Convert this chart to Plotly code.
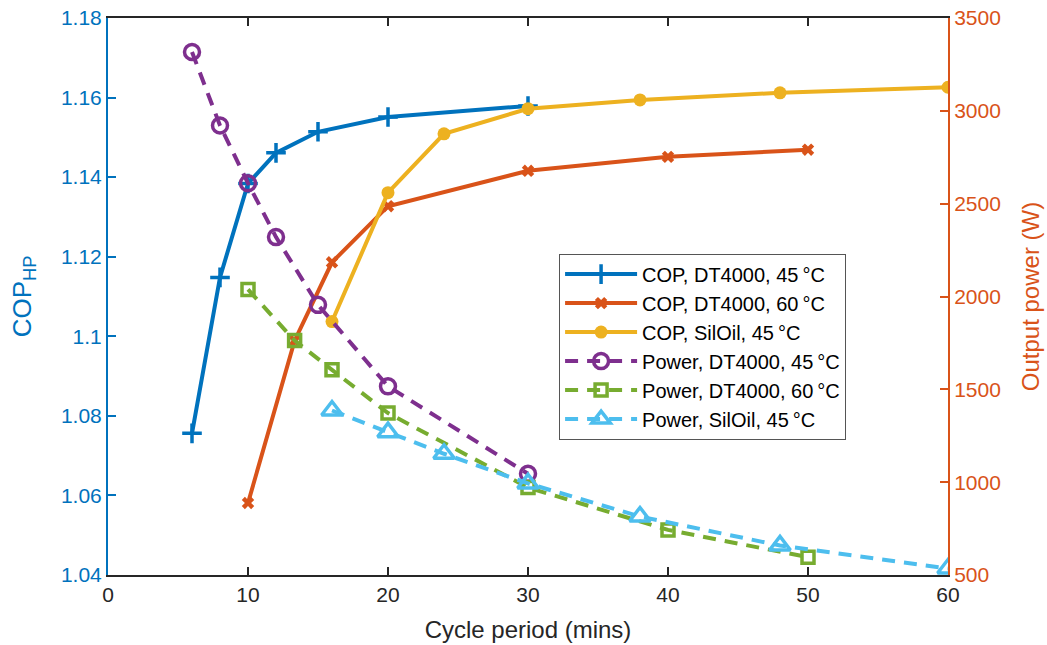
import plotly.graph_objects as go

# Cycle periods (mins)
x_dt45 = [6, 8, 10, 12, 15, 20, 30]
x_dt60 = [10, 13.33, 16, 20, 30, 40, 50]
x_sil45 = [16, 20, 24, 30, 38, 48, 60]

# COP values (left axis)
cop_dt45 = [1.0756, 1.1148, 1.1384, 1.1461, 1.1514, 1.1551, 1.1579]
cop_dt60 = [1.0581, 1.0989, 1.1186, 1.1327, 1.1416, 1.1451, 1.1469]
cop_sil45 = [1.1037, 1.1361, 1.1509, 1.1572, 1.1594, 1.1612, 1.1626]

# Output power values (W, right axis)
pow_dt45 = [3317, 2921, 2610, 2320, 1955, 1516, 1045]
pow_dt60 = [2038, 1763, 1605, 1372, 971, 743, 596]
pow_sil45 = [1386, 1269, 1153, 993, 815, 659, 535]

BLUE = "#0072BD"
ORANGE = "#D95319"
YELLOW = "#EDB120"
PURPLE = "#7E2F8E"
GREEN = "#77AC30"
CYAN = "#4DBEEE"
DASH = "13px,9px"

fig = go.Figure()

fig.add_trace(go.Scatter(x=x_dt45, y=cop_dt45, mode="lines+markers",
    name="COP, DT4000, 45\u2009\u00b0C",
    line=dict(color=BLUE, width=4),
    marker=dict(symbol="cross-thin", size=14, line=dict(color=BLUE, width=3.5))))
fig.add_trace(go.Scatter(x=x_dt60, y=cop_dt60, mode="lines+markers",
    name="COP, DT4000, 60\u2009\u00b0C",
    line=dict(color=ORANGE, width=4),
    marker=dict(symbol="x", size=11, color=ORANGE, line=dict(width=0))))
fig.add_trace(go.Scatter(x=x_sil45, y=cop_sil45, mode="lines+markers",
    name="COP, SilOil, 45\u2009\u00b0C",
    line=dict(color=YELLOW, width=4),
    marker=dict(symbol="circle", size=13, color=YELLOW)))

fig.add_trace(go.Scatter(x=x_dt45, y=pow_dt45, mode="lines+markers", yaxis="y2",
    name="Power, DT4000, 45\u2009\u00b0C",
    line=dict(color=PURPLE, width=4, dash=DASH),
    marker=dict(symbol="circle-open", size=15, color=PURPLE, line=dict(width=3.5))))
fig.add_trace(go.Scatter(x=x_dt60, y=pow_dt60, mode="lines+markers", yaxis="y2",
    name="Power, DT4000, 60\u2009\u00b0C",
    line=dict(color=GREEN, width=4, dash=DASH),
    marker=dict(symbol="square-open", size=12, color=GREEN, line=dict(width=3.5))))
fig.add_trace(go.Scatter(x=x_sil45, y=pow_sil45, mode="lines+markers", yaxis="y2",
    name="Power, SilOil, 45\u2009\u00b0C",
    line=dict(color=CYAN, width=4, dash=DASH),
    marker=dict(symbol="triangle-up-open", size=18, color=CYAN, line=dict(width=3.5))))

FONT = "Liberation Sans, Arial, sans-serif"
TICK = 21
TITLE = 24

fig.update_layout(
    width=1047, height=645,
    margin=dict(l=108, r=99, t=18, b=70),
    paper_bgcolor="white", plot_bgcolor="white",
    font=dict(family=FONT, size=TICK, color="#262626"),
    showlegend=True,
    legend=dict(x=0.537, y=0.577, xanchor="left", yanchor="top",
                bgcolor="white", bordercolor="#555555", borderwidth=1,
                font=dict(size=20, color="black"), tracegroupgap=0,
                itemwidth=72),
    xaxis=dict(range=[0, 60], dtick=10, tick0=0, automargin=False,
               showline=True, linecolor="#262626", linewidth=2,
               mirror="ticks", ticks="inside", ticklen=8, tickwidth=1.5,
               tickcolor="#262626", showgrid=False, zeroline=False,
               tickfont=dict(size=TICK, color="#262626"),
               title=dict(text="Cycle period (mins)", font=dict(size=TITLE, color="#262626"), standoff=16)),
    yaxis=dict(range=[1.04, 1.18], dtick=0.02, tick0=1.04, automargin=False,
               showline=True, linecolor=BLUE, linewidth=2,
               ticks="inside", ticklen=8, tickwidth=1.5, tickcolor=BLUE,
               showgrid=False, zeroline=False,
               tickfont=dict(size=TICK, color=BLUE), tickformat="~r",
               title=dict(text="COP<sub>HP</sub>", font=dict(size=26, color=BLUE), standoff=22)),
    yaxis2=dict(range=[500, 3500], dtick=500, tick0=500, overlaying="y", side="right",
                automargin=False,
                showline=True, linecolor=ORANGE, linewidth=2,
                ticks="inside", ticklen=8, tickwidth=1.5, tickcolor=ORANGE,
                showgrid=False, zeroline=False,
                tickfont=dict(size=TICK, color=ORANGE),
                title=dict(text="Output power (W)", font=dict(size=TITLE, color=ORANGE), standoff=22)),
)

fig.write_html("out.html")
